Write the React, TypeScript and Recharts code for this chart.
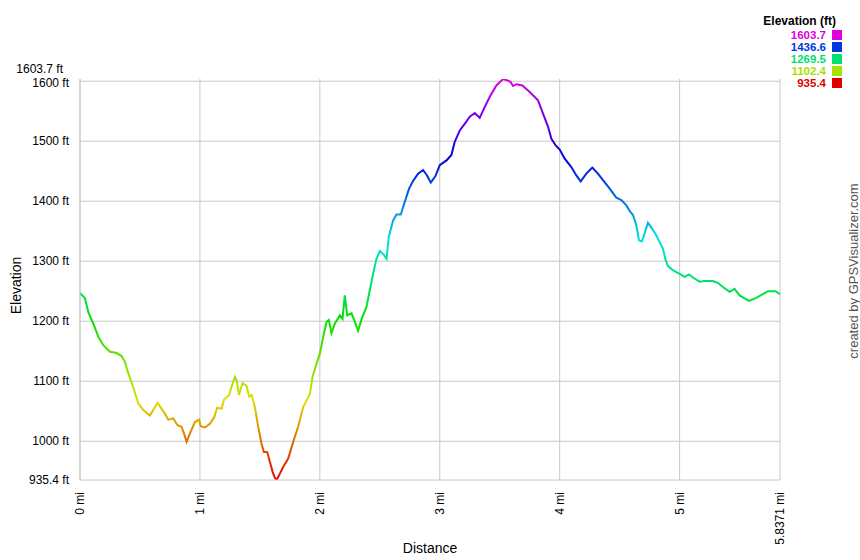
import React from 'react';
import { LineChart, Line, XAxis, YAxis, CartesianGrid } from 'recharts';

const distanceMi = [
  0, 0.042, 0.069, 0.111, 0.153, 0.194, 0.25, 0.306, 0.347, 0.375,
  0.403, 0.444, 0.486, 0.528, 0.583, 0.611, 0.647, 0.681, 0.708, 0.736,
  0.778, 0.811, 0.847, 0.867, 0.889, 0.917, 0.958, 0.994, 1.006, 1.042,
  1.083, 1.119, 1.144, 1.181, 1.2, 1.244, 1.264, 1.292, 1.306, 1.325,
  1.356, 1.389, 1.411, 1.431, 1.458, 1.486, 1.514, 1.533, 1.561, 1.583,
  1.606, 1.625, 1.639, 1.667, 1.694, 1.736, 1.778, 1.819, 1.861, 1.917,
  1.939, 1.972, 2.0, 2.028, 2.056, 2.075, 2.097, 2.125, 2.167, 2.189,
  2.208, 2.228, 2.264, 2.292, 2.319, 2.347, 2.389, 2.417, 2.444, 2.472,
  2.5, 2.533, 2.556, 2.575, 2.611, 2.639, 2.675, 2.708, 2.744, 2.778,
  2.819, 2.861, 2.894, 2.925, 2.964, 3.0, 3.056, 3.097, 3.125, 3.167,
  3.208, 3.25, 3.292, 3.333, 3.375, 3.417, 3.472, 3.528, 3.569, 3.589,
  3.611, 3.639, 3.689, 3.75, 3.819, 3.861, 3.903, 3.931, 3.967, 4.0,
  4.042, 4.097, 4.139, 4.175, 4.222, 4.272, 4.319, 4.361, 4.417, 4.472,
  4.514, 4.556, 4.583, 4.611, 4.639, 4.661, 4.686, 4.717, 4.736, 4.778,
  4.806, 4.833, 4.861, 4.883, 4.903, 4.944, 5.0, 5.042, 5.078, 5.117,
  5.167, 5.208, 5.278, 5.319, 5.361, 5.417, 5.458, 5.5, 5.578, 5.639,
  5.694, 5.736, 5.8, 5.8371,
];

const elevationFt = [
  1247, 1238, 1215, 1196, 1174, 1160, 1149, 1147, 1142, 1132,
  1113, 1090, 1063, 1052, 1043, 1052, 1064, 1054, 1046, 1036,
  1038, 1027, 1024, 1013, 999, 1013, 1032, 1036, 1025, 1023,
  1029, 1040, 1056, 1054, 1069, 1077, 1091, 1107, 1102, 1077,
  1097, 1092, 1074, 1077, 1057, 1024, 996, 982, 982, 966,
  949, 939, 935.4, 946, 957, 971, 999, 1024, 1057, 1079,
  1107, 1129, 1146, 1174, 1199, 1202, 1180, 1196, 1210, 1204,
  1243, 1210, 1213, 1199, 1184, 1203, 1224, 1252, 1279, 1304,
  1317, 1311, 1304, 1341, 1368, 1378, 1378, 1399, 1421, 1434,
  1446, 1452, 1443, 1431, 1442, 1460, 1468, 1477, 1499, 1518,
  1529, 1541, 1547, 1539, 1557, 1574, 1593, 1603.7, 1601, 1599,
  1592, 1595, 1593, 1582, 1568, 1546, 1524, 1504, 1493, 1486,
  1471, 1457, 1443, 1433, 1446, 1456, 1446, 1435, 1421, 1406,
  1402, 1393, 1384, 1377, 1360, 1335, 1333, 1352, 1364, 1352,
  1343, 1332, 1321, 1302, 1292, 1285, 1279, 1274, 1278, 1272,
  1266, 1267, 1267, 1264, 1257, 1249, 1254, 1243, 1234, 1239,
  1245, 1250, 1250, 1245,
];

const xTicks = [0, 1, 2, 3, 4, 5, 5.8371];
const yTicks = [935.4, 1000, 1100, 1200, 1300, 1400, 1500, 1600, 1603.7];
const gridY = [1000, 1100, 1200, 1300, 1400, 1500, 1600];
const legendValues = ['1603.7', '1436.6', '1269.5', '1102.4', '935.4'];
const legendColors = ['#e000e0', '#0038e0', '#00e070', '#a8e000', '#e00000'];

const Y_MIN = 935.4;
const Y_MAX = 1603.7;

const data = distanceMi.map((d, i) => ({ d, e: elevationFt[i] }));

const FONT = 'Arial, "Liberation Sans", Helvetica, sans-serif';

const gradientStops = Array.from({ length: 11 }, (_, i) => {
  const offset = i / 10;
  const hue = 300 * (1 - offset);
  return { offset, color: `hsl(${hue}, 100%, 44%)` };
});

const YTick = (props: any) => {
  const { x, y, payload } = props;
  const isTop = payload.value === Y_MAX;
  const is1600 = payload.value === 1600;
  return (
    <text
      x={x - 1 - (isTop ? 6 : 0)}
      y={y + (isTop ? -10 : is1600 ? 2 : 0)}
      textAnchor="end"
      dominantBaseline="central"
      fontFamily={FONT}
      fontSize={12}
      fill="#000"
    >
      {String(payload.value)} ft
    </text>
  );
};

const XTick = (props: any) => {
  const { x, y, payload } = props;
  return (
    <text
      transform={`translate(${x},${y + 1}) rotate(-90)`}
      textAnchor="end"
      dominantBaseline="central"
      fontFamily={FONT}
      fontSize={12}
      fill="#000"
    >
      {String(payload.value)} mi
    </text>
  );
};

export default function App() {
  return (
    <div style={{ position: 'absolute', left: 0, top: 0, width: 860, height: 560, background: '#fff', fontFamily: FONT }}>
      <LineChart
        width={860}
        height={560}
        data={data}
        margin={{ top: 79, right: 80, bottom: 20, left: 0 }}
      >
        <defs>
          <linearGradient id="elevGrad" x1="0" y1="0" x2="0" y2="1">
            {gradientStops.map((s) => (
              <stop key={s.offset} offset={s.offset} stopColor={s.color} />
            ))}
          </linearGradient>
        </defs>
        <CartesianGrid
          stroke="#c8c8c8"
          strokeWidth={1}
          horizontalValues={gridY}
          verticalValues={xTicks}
        />
        <XAxis
          dataKey="d"
          type="number"
          domain={[0, 5.8371]}
          ticks={xTicks}
          interval={0}
          height={60}
          axisLine={{ stroke: '#c8c8c8' }}
          tickLine={false}
          tick={<XTick />}
          tickMargin={5}
          label={(p: any) => {
            const vb = p.viewBox;
            return (
              <text x={vb.x + vb.width / 2} y={548} textAnchor="middle" dominantBaseline="central" fontFamily={FONT} fontSize={14} fill="#000">
                Distance
              </text>
            );
          }}
        />
        <YAxis
          type="number"
          domain={[Y_MIN, Y_MAX]}
          ticks={yTicks}
          interval={0}
          width={80}
          axisLine={{ stroke: '#c8c8c8' }}
          tickLine={false}
          tick={<YTick />}
          tickMargin={4}
          allowDataOverflow
          label={(p: any) => {
            const vb = p.viewBox;
            const cy = vb.y + vb.height / 2 + 6;
            return (
              <text transform={`translate(16,${cy}) rotate(-90)`} textAnchor="middle" dominantBaseline="central" fontFamily={FONT} fontSize={14} fill="#000">
                Elevation
              </text>
            );
          }}
        />
        <Line
          type="linear"
          dataKey="e"
          stroke="url(#elevGrad)"
          strokeWidth={2}
          dot={false}
          activeDot={false}
          isAnimationActive={false}
        />
      </LineChart>

      <div style={{ position: 'absolute', right: 24, top: 14, textAlign: 'right', fontFamily: FONT, fontSize: 12, fontWeight: 'bold', lineHeight: '14px' }}>
        Elevation (ft)
      </div>
      <div style={{ position: 'absolute', left: 760, top: 29, width: 82 }}>
        {legendValues.map((v, i) => (
          <div key={v} style={{ display: 'flex', justifyContent: 'flex-end', alignItems: 'center', height: 12 }}>
            <span style={{ color: legendColors[i], fontFamily: FONT, fontSize: 11.5, fontWeight: 'bold', lineHeight: '11px', marginRight: 6 }}>{v}</span>
            <span style={{ display: 'inline-block', width: 10, height: 10, background: legendColors[i] }} />
          </div>
        ))}
      </div>

      <div
        style={{
          position: 'absolute',
          left: 853,
          top: 271,
          transform: 'translate(-50%, -50%) rotate(-90deg)',
          whiteSpace: 'nowrap',
          fontFamily: FONT,
          fontSize: 13,
          color: '#555',
        }}
      >
        created by GPSVisualizer.com
      </div>
    </div>
  );
}
